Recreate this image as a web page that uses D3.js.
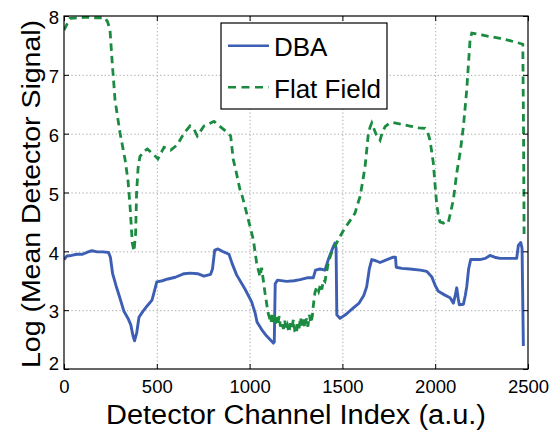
<!DOCTYPE html>
<html>
<head>
<meta charset="utf-8">
<script src="https://cdn.jsdelivr.net/npm/d3@7"></script>
<style>
body{margin:0;background:#fff;}
text{font-family:"Liberation Sans",Arial,Helvetica,sans-serif;fill:#000;}
</style>
</head>
<body>
<svg id="svg" width="553" height="430"></svg>
<script>
var xTicks = [0,500,1000,1500,2000,2500];
var yTicks = [2,3,4,5,6,7,8];
var seriesNames = ["DBA","Flat Field"];

// DBA, [channel, log signal]
var dba = [
[0,3.86],[15,3.92],[40,3.93],[70,3.95],[100,3.95],[130,3.99],[150,4.01],[180,3.99],[210,3.99],[240,3.98],
[250,3.90],[262,3.62],[280,3.42],[300,3.22],[323,2.98],[345,2.86],[360,2.75],[372,2.56],[380,2.48],[392,2.62],
[404,2.88],[425,2.98],[450,3.08],[474,3.17],[485,3.30],[500,3.48],[530,3.50],[560,3.53],[600,3.56],[647,3.62],
[680,3.63],[720,3.62],[754,3.58],[790,3.61],[800,3.70],[812,4.02],[830,4.04],[860,3.99],[889,3.95],[905,3.80],
[930,3.60],[975,3.36],[1011,3.14],[1030,2.95],[1040,2.80],[1065,2.67],[1092,2.56],[1110,2.50],[1128,2.44],[1133,2.46],
[1138,3.45],[1150,3.51],[1200,3.49],[1240,3.50],[1272,3.52],[1310,3.55],[1343,3.55],[1355,3.68],[1380,3.70],[1406,3.68],
[1424,3.86],[1451,4.08],[1460,4.14],[1466,4.05],[1470,2.92],[1487,2.86],[1520,2.93],[1559,3.04],[1590,3.12],[1615,3.25],
[1631,3.40],[1645,3.70],[1658,3.86],[1680,3.84],[1703,3.81],[1740,3.86],[1774,3.90],[1786,3.90],[1790,3.73],[1820,3.71],
[1864,3.70],[1920,3.68],[1954,3.66],[1981,3.57],[2000,3.42],[2017,3.32],[2050,3.26],[2080,3.21],[2098,3.12],[2108,3.25],
[2116,3.38],[2124,3.20],[2130,3.09],[2152,3.10],[2162,3.25],[2170,3.40],[2180,3.70],[2191,3.86],[2241,3.86],[2270,3.88],
[2295,3.93],[2320,3.90],[2349,3.88],[2400,3.88],[2439,3.88],[2448,4.10],[2461,4.15],[2468,4.05],[2475,2.39]
];

// Flat Field, [channel, log signal]
var flatField = [
[0,7.76],[32,7.96],[80,7.97],[120,7.98],[160,7.97],[221,7.97],[235,7.90],[248,7.76],[260,7.20],[275,6.57],
[302,6.01],[329,5.56],[345,5.20],[356,4.76],[368,4.14],[377,4.00],[386,4.31],[391,4.99],[399,5.41],[409,5.61],
[430,5.70],[449,5.74],[470,5.68],[485,5.64],[506,5.57],[539,5.77],[575,5.72],[610,5.81],[647,6.01],[679,6.13],
[700,6.08],[718,5.96],[754,6.13],[790,6.18],[808,6.21],[830,6.15],[853,6.09],[880,6.02],[898,5.96],[912,5.56],
[925,5.39],[948,5.05],[961,4.93],[984,4.65],[1020,4.20],[1038,3.80],[1056,3.57],[1065,3.72],[1083,3.29],[1100,2.95],
[1110,2.84],[1115,2.78],[1120,2.92],[1126,2.80],[1132,2.95],[1138,2.74],[1146,2.88],[1152,2.78],[1160,2.90],[1166,2.72],
[1174,2.80],[1182,2.68],[1190,2.82],[1196,2.66],[1204,2.74],[1212,2.62],[1220,2.78],[1228,2.70],[1236,2.84],[1244,2.64],
[1252,2.60],[1258,2.76],[1266,2.68],[1274,2.88],[1282,2.74],[1290,2.84],[1298,2.70],[1306,2.86],[1314,2.72],[1322,2.92],
[1330,2.78],[1338,2.90],[1343,3.07],[1352,3.30],[1362,3.40],[1372,3.32],[1382,3.44],[1389,3.35],[1398,3.52],[1406,3.49],
[1415,3.65],[1424,3.80],[1438,3.95],[1451,4.03],[1470,4.15],[1487,4.25],[1510,4.38],[1532,4.48],[1550,4.56],[1568,4.65],
[1580,4.78],[1595,4.93],[1610,5.20],[1622,5.44],[1632,5.75],[1640,6.01],[1650,6.12],[1658,6.18],[1680,6.00],[1703,5.89],
[1715,6.02],[1730,6.12],[1750,6.17],[1774,6.19],[1820,6.16],[1864,6.13],[1910,6.10],[1945,6.09],[1960,6.02],[1972,5.89],
[1990,5.50],[2000,5.10],[2008,4.80],[2020,4.56],[2026,4.50],[2044,4.48],[2060,4.52],[2071,4.50],[2080,4.62],[2098,4.88],
[2116,5.33],[2134,5.67],[2152,6.12],[2170,6.75],[2188,7.60],[2197,7.71],[2250,7.68],[2295,7.65],[2350,7.62],[2403,7.58],
[2440,7.55],[2472,7.52],[2476,6.00],[2479,4.25]
];

var colors = ["#3d5fb3","#1a8b40"];

// plot box in page pixels
var plotLeft = 64, plotRight = 528, plotTop = 16, plotBottom = 369;
var w = plotRight-plotLeft, h = plotBottom-plotTop;

var svg = d3.select("#svg");
var g = svg.append("g").attr("transform","translate("+plotLeft+","+plotTop+")");

var x = d3.scaleLinear().domain([0,2500]).range([0,w]);
var y = d3.scaleLinear().domain([2,8]).range([h,0]);

// grid
var gx = g.append("g").attr("transform","translate(0,"+h+")")
    .call(d3.axisBottom(x).tickValues(xTicks.slice(1,-1)).tickSize(-h).tickFormat(""));
var gy = g.append("g")
    .call(d3.axisLeft(y).tickValues(yTicks.slice(1,-1)).tickSize(-w).tickFormat(""));
[gx,gy].forEach(function(a){
    a.select(".domain").remove();
    a.selectAll("line").attr("stroke","#a8a8a8").attr("stroke-width",1).attr("stroke-dasharray","1.3,2.4");
});

g.append("clipPath").attr("id","clip").append("rect").attr("width",w).attr("height",h);

var line = d3.line()
    .x(function(d){ return x(d[0]); })
    .y(function(d){ return y(d[1]); });

g.append("path").datum(dba)
    .attr("clip-path","url(#clip)")
    .attr("fill","none").attr("stroke",colors[0]).attr("stroke-width",2.9)
    .attr("stroke-linejoin","round")
    .attr("d",line);

g.append("path").datum(flatField)
    .attr("clip-path","url(#clip)")
    .attr("fill","none").attr("stroke",colors[1]).attr("stroke-width",2.8)
    .attr("stroke-dasharray","7.5,5")
    .attr("d",line);

// axes, ticks pointing in on all four sides
var ax = g.append("g").attr("transform","translate(0,"+h+")")
    .call(d3.axisBottom(x).tickValues(xTicks).tickFormat(d3.format("d")).tickSize(-5).tickSizeOuter(0).tickPadding(11));
var ay = g.append("g")
    .call(d3.axisLeft(y).tickValues(yTicks).tickFormat(d3.format("d")).tickSize(-5).tickSizeOuter(0).tickPadding(5));
var at = g.append("g")
    .call(d3.axisTop(x).tickValues(xTicks).tickSize(-5).tickSizeOuter(0).tickFormat(""));
var ar = g.append("g").attr("transform","translate("+w+",0)")
    .call(d3.axisRight(y).tickValues(yTicks).tickSize(-5).tickSizeOuter(0).tickFormat(""));
[ax,ay,at,ar].forEach(function(a){
    a.select(".domain").remove();
    a.selectAll("line").attr("stroke","#000").attr("stroke-width",1);
    a.selectAll("text").style("font-size","18.5px").attr("fill","#000");
});
ay.selectAll("text").attr("dy","0.42em")
    .filter(function(d){ return d==2; }).attr("dy","0.05em");

g.append("rect").attr("width",w).attr("height",h)
    .attr("fill","none").attr("stroke","#000").attr("stroke-width",1.2);

// labels
svg.append("text")
    .attr("x",plotLeft+w/2).attr("y",424)
    .attr("text-anchor","middle")
    .attr("textLength",380).attr("lengthAdjust","spacingAndGlyphs")
    .style("font-size","27px")
    .text("Detector Channel Index (a.u.)");

svg.append("text")
    .attr("transform","translate(40,194) rotate(-90)")
    .attr("text-anchor","middle")
    .attr("textLength",348).attr("lengthAdjust","spacingAndGlyphs")
    .style("font-size","26px")
    .text("Log (Mean Detector Signal)");

// legend
var lg = svg.append("g").attr("transform","translate(221,23)");
lg.append("rect").attr("width",166).attr("height",86)
    .attr("fill","#fff").attr("stroke","#000").attr("stroke-width",1.2);
var items = lg.selectAll(".item")
    .data(seriesNames)
    .enter()
    .append("g")
    .attr("class","item")
    .attr("transform",function(d,i){ return "translate(0,"+(22.7+i*41.6)+")"; });
items.append("line")
    .attr("x1",7).attr("x2",48)
    .attr("stroke",function(d,i){ return colors[i]; })
    .attr("stroke-width",2.6)
    .attr("stroke-dasharray",function(d,i){ return i==1?"8,5.5":null; });
items.append("text")
    .attr("x",53).attr("y",10.5)
    .style("font-size","26px")
    .text(function(d){ return d; });
</script>
</body>
</html>
